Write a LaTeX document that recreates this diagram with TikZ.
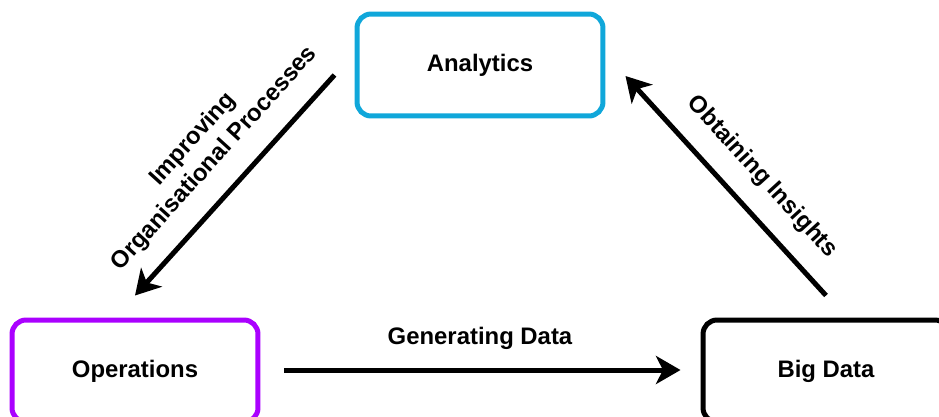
\documentclass[tikz,border=0pt]{standalone}
\usepackage{fontspec}
\setmainfont{Liberation Sans}
\usetikzlibrary{calc, arrows.meta}
\definecolor{analyticsblue}{RGB}{16,167,218}
\definecolor{opspurple}{RGB}{170,0,255}

\begin{document}
\begin{tikzpicture}[x=0.02cm, y=-0.02cm,
    box/.style={draw, line width=2.85pt, rounded corners=8pt,
        minimum width=4.92cm, minimum height=2.04cm,
        font=\fontsize{13.6}{16}\selectfont\bfseries},
    flow/.style={line width=2.85pt,
        -{Stealth[length=14pt, width=16pt, inset=4pt]}},
    lbl/.style={font=\fontsize{13.6}{16.5}\selectfont\bfseries, align=center}]
    \useasboundingbox (0,0) rectangle (939,416);

    \node[box, draw=analyticsblue] (ana) at (480,65) {Analytics};
    \node[box, draw=opspurple] (ops) at (135,371) {Operations};
    \node[box, draw=black] (big) at (826,371) {Big Data};

    \draw[flow] ($(ana.west)+(-20,10)$) -- ($(ops.north)+(0,-22)$);
    \draw[flow] ($(ops.east)+(24,-1)$) -- ($(big.west)+(-20,-1)$);
    \draw[flow] ($(big.north)+(0,-22)$) -- ($(ana.east)+(20,11)$);

    \node[lbl] at (480,338) {Generating Data};
    \node[lbl, rotate=-47.6] at (762,177) {Obtaining Insights};
    \node[lbl, rotate=47.8] at (204,149)
        {Improving\\Organisational Processes};
\end{tikzpicture}
\end{document}
